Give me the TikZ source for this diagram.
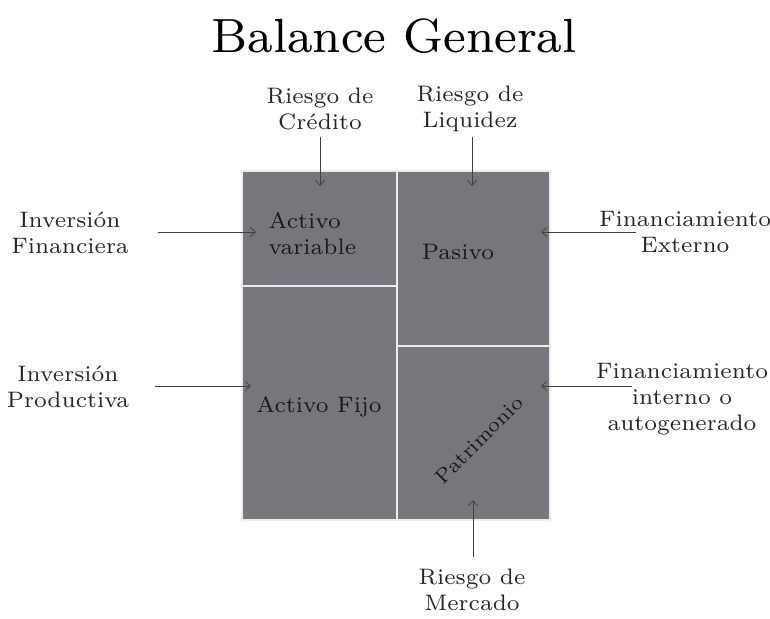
\documentclass[tikz,border=0pt]{standalone}
\usetikzlibrary{arrows.meta}
\begin{document}
\begin{tikzpicture}[x=1pt,y=-1pt,
  lbl/.style={align=center,font=\fontsize{7}{8.1}\selectfont,inner sep=0pt,scale=3.2,text=black!85},
  inlbl/.style={font=\fontsize{7}{8.1}\selectfont,inner sep=0pt,scale=3.2,text=black!90},
  arr/.style={-{Straight Barb[length=5pt,width=9pt]},draw=black!75,line width=0.8pt},
  cell/.style={fill=boxgray,draw=white!85!gray,line width=1.4pt}]
\definecolor{boxgray}{RGB}{120,118,125}
\useasboundingbox (0,0) rectangle (770,618);
\node[font=\fontsize{8}{9}\selectfont,inner sep=0pt,scale=6.0] (title) at (394,36) {Balance General};
% cells
\path[cell] (242,171) rectangle (397,286);
\path[cell] (242,286) rectangle (397,520);
\path[cell] (397,171) rectangle (550,346);
\path[cell] (397,346) rectangle (550,520);
\node[inlbl,align=left,anchor=west] (av) at (268,234) {Activo\\variable};
\node[inlbl] (pas) at (458,252) {Pasivo};
\node[inlbl] (af) at (319,407) {Activo Fijo};
\node[inlbl,rotate=45,scale=0.92] (pat) at (479,440) {Patrimonio};
% outer labels
\node[lbl] (rc) at (320,109) {Riesgo de\\Crédito};
\node[lbl] (rl) at (470,109) {Riesgo de\\Liquidez};
\node[lbl] (if) at (70,233) {Inversión\\Financiera};
\node[lbl] (ip) at (68,387) {Inversión\\Productiva};
\node[lbl] (fe) at (685,232) {Financiamiento\\Externo};
\node[lbl] (fi) at (682,399) {Financiamiento\\interno o\\autogenerado};
\node[lbl] (rm) at (472,590) {Riesgo de\\Mercado};
% arrow endpoints
\coordinate (rcS) at (320,137);
\coordinate (rcE) at (320,186);
\coordinate (rlS) at (472,137);
\coordinate (rlE) at (472,186);
\coordinate (ifS) at (158,232);
\coordinate (ifE) at (256,232);
\coordinate (ipS) at (155,386);
\coordinate (ipE) at (251,386);
\coordinate (feS) at (636,232);
\coordinate (feE) at (541,232);
\coordinate (fiS) at (632,386);
\coordinate (fiE) at (541,386);
\coordinate (rmS) at (473,557);
\coordinate (rmE) at (473,500);
\draw[arr] (rcS) -- (rcE);
\draw[arr] (rlS) -- (rlE);
\draw[arr] (ifS) -- (ifE);
\draw[arr] (ipS) -- (ipE);
\draw[arr] (feS) -- (feE);
\draw[arr] (fiS) -- (fiE);
\draw[arr] (rmS) -- (rmE);
\end{tikzpicture}
\end{document}
